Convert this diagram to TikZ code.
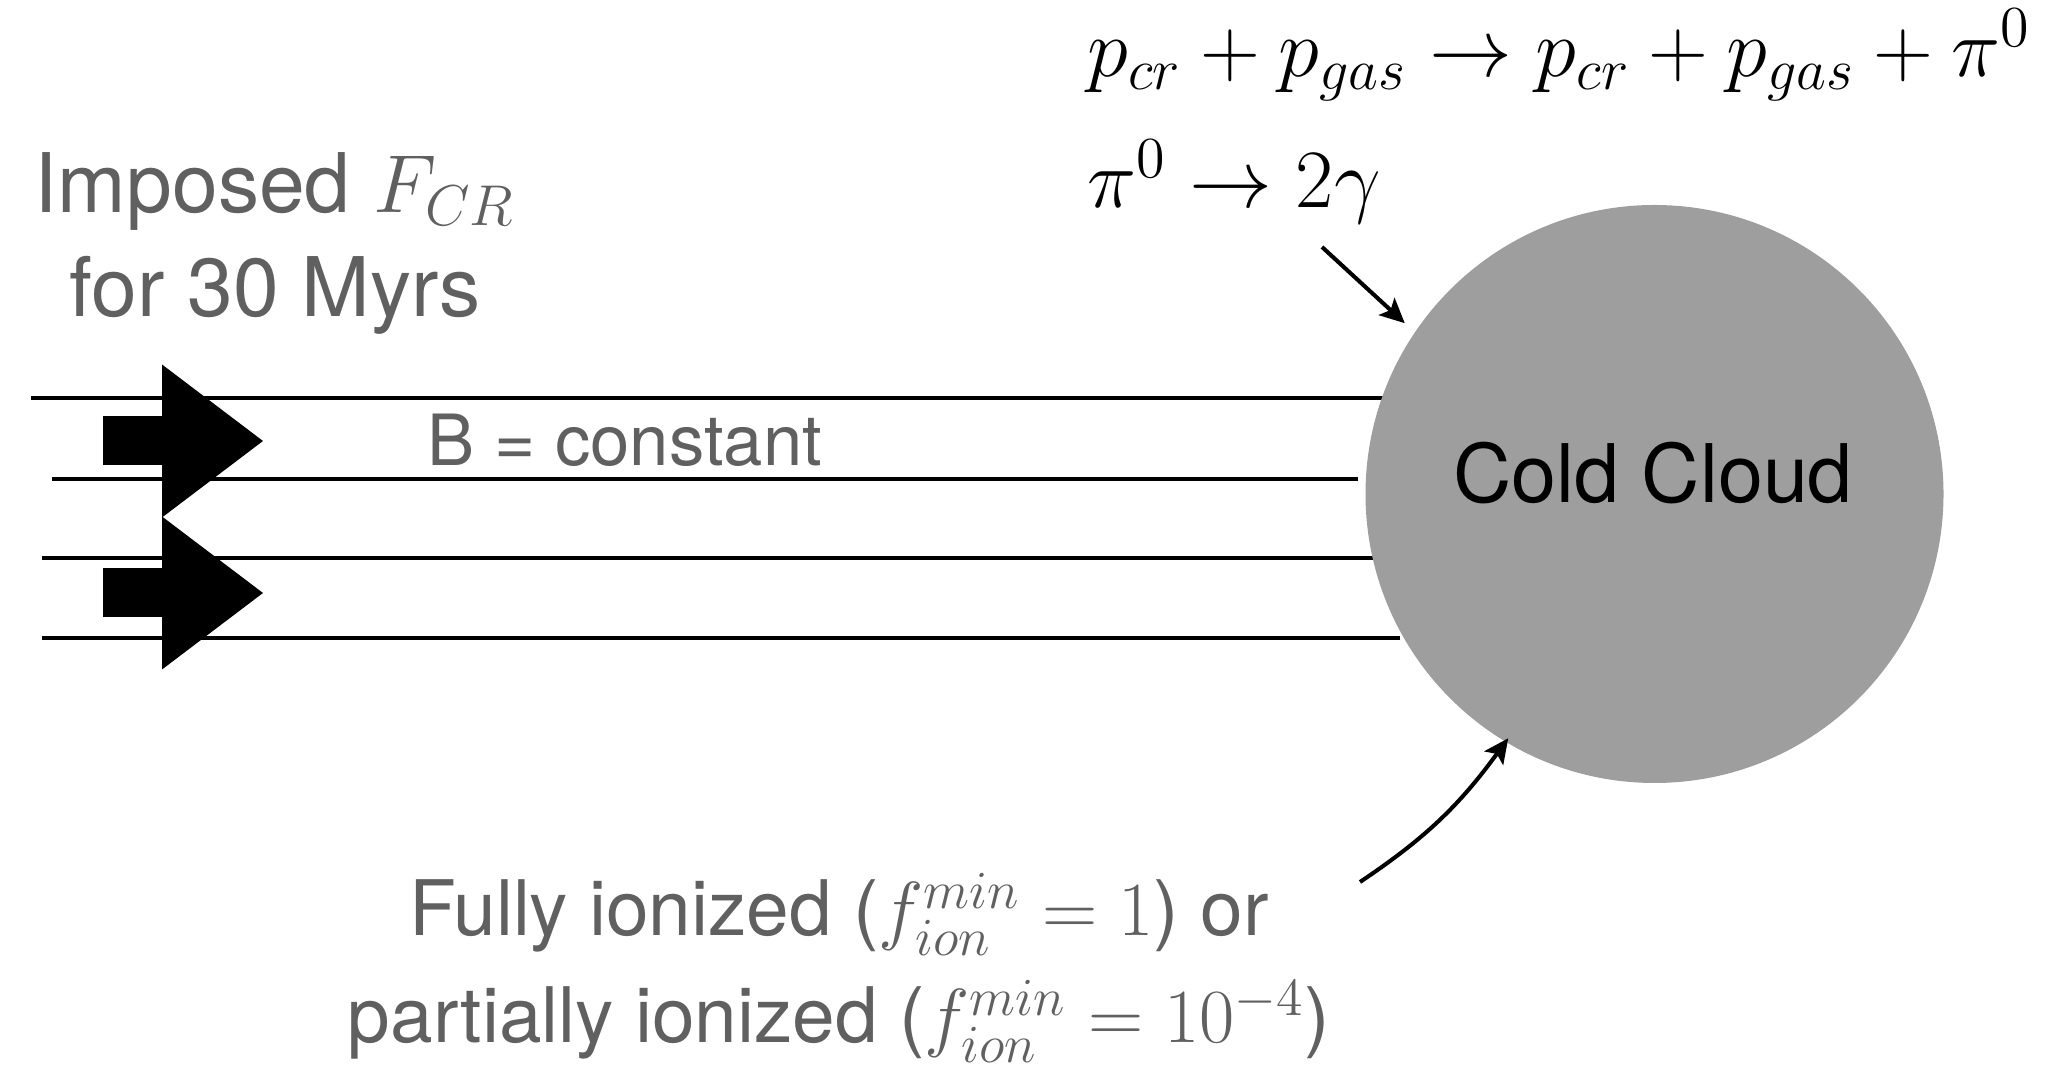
\documentclass[tikz,border=0pt]{standalone}
\usepackage{fix-cm}
\usepackage{amsmath, amssymb}
\usepackage{fontspec}
\setmainfont{TeX Gyre Heros}
\usepackage{xcolor}
\usepackage{tikz}
\usetikzlibrary{arrows.meta, positioning}
\definecolor{cloudgray}{RGB}{158, 158, 158}
\definecolor{labelgray}{RGB}{96, 96, 96}

\begin{document}
\begin{tikzpicture}[>={Stealth[length=7pt, width=6.6pt, inset=1.5pt]},
  fieldline/.style={line width=1.4pt},
  pointer/.style={->, line width=1.15pt},
  graytext/.style={text=labelgray, inner sep=0pt}]
  \useasboundingbox (0,0) rectangle (20.47,10.77);

  % magnetic field lines
  \foreach \xa/\xb/\yy in {0.31/13.86/6.79, 0.52/13.58/5.98, 0.42/13.73/5.19, 0.42/14.00/4.39}
    \draw[fieldline] (\xa,\yy) -- (\xb,\yy);

  % imposed cosmic ray flux
  \foreach \yc in {6.36, 4.84} {
    \fill (1.03,\yc-0.245) rectangle (1.62,\yc+0.245);
    \fill (1.62,\yc-0.765) -- (2.63,\yc) -- (1.62,\yc+0.765) -- cycle;
  }

  \node[circle, fill=cloudgray, minimum size=5.78cm, inner sep=0pt] (cloud) at (16.545,5.83) {};
  \node[anchor=base, inner sep=0pt, font=\fontsize{23}{28}\selectfont] (cloudlbl) at (16.53,5.74) {Cold Cloud};

  \node[graytext, anchor=base, font=\fontsize{23.4}{29.6}\selectfont] (impA) at (2.75,8.64) {Imposed $F_{CR}$};
  \node[graytext, anchor=base, font=\fontsize{23.4}{29.6}\selectfont] (impB) at (2.75,7.60) {for 30 Myrs};
  \node[graytext, anchor=base west, font=\fontsize{20.1}{24}\selectfont] (bconst) at (4.27,6.11) {B = constant};

  \node[anchor=base west, inner sep=0pt, font=\fontsize{23.6}{28}\selectfont] (reacA) at (10.87,10.00) {$p_{cr} + p_{gas} \rightarrow p_{cr} + p_{gas} + \pi^0$};
  \node[anchor=base west, inner sep=0pt, font=\fontsize{23.6}{28}\selectfont] (reacB) at (10.87,8.69) {$\pi^0 \rightarrow 2\gamma$};

  \node[graytext, anchor=base, font=\fontsize{21.8}{30}\selectfont] (ionA) at (8.39,1.41) {Fully ionized ($f_{ion}^{min} = 1$) or};
  \node[graytext, anchor=base, font=\fontsize{21.8}{30}\selectfont] (ionB) at (8.39,0.34) {partially ionized ($f_{ion}^{min} = 10^{-4}$)};

  \coordinate (gtail) at (13.22,8.30);
  \coordinate (itail) at (13.60,1.95);
  \draw[pointer, shorten >=0.13cm] (gtail) -- (cloud.146.6);
  \draw[pointer, shorten >=-0.05cm] (itail) to[bend right=10] (cloud.239.4);
\end{tikzpicture}
\end{document}
